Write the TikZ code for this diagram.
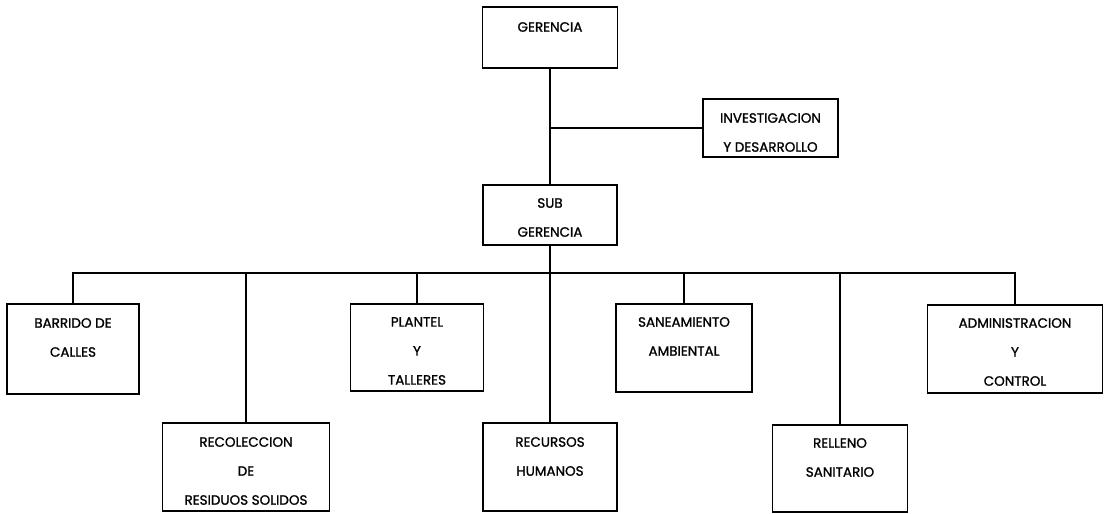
\documentclass[tikz,border=0pt]{standalone}
\usepackage{fontspec}
\setmainfont{Poppins}
\newfontfamily\capfont{Poppins}[FakeBold=1.2]
\begin{document}
\begin{tikzpicture}[x=1pt,y=-1pt,
  unit/.style={draw, line width=1.6pt, rectangle, inner sep=0pt},
  caption/.style={align=center, inner sep=0pt, anchor=north,
    font=\capfont\fontsize{13.5}{29}\selectfont},
  link/.style={line width=1.5pt}]
\useasboundingbox (0,0) rectangle (1104,514);

% boxes: centre, width and height
\node[unit, minimum width=135pt, minimum height=61pt] (ger)  at (550,37.5)  {};
\node[unit, minimum width=135pt, minimum height=58pt] (inv)  at (770.5,128) {};
\node[unit, minimum width=134pt, minimum height=60pt] (sub)  at (550,215)   {};
\node[unit, minimum width=132pt, minimum height=90pt] (barr) at (73,349)    {};
\node[unit, minimum width=167pt, minimum height=88pt] (reco) at (246,467)   {};
\node[unit, minimum width=133pt, minimum height=87pt] (plan) at (417,347.5) {};
\node[unit, minimum width=134pt, minimum height=88pt] (recu) at (550,467)   {};
\node[unit, minimum width=136pt, minimum height=88pt] (sane) at (684,348)   {};
\node[unit, minimum width=135pt, minimum height=87pt] (rell) at (840,468.5) {};
\node[unit, minimum width=175pt, minimum height=88pt] (admi) at (1015,349)  {};

% labels (top of first line of capitals)
\node[caption] (gerT)  at (550,22)    {GERENCIA};
\node[caption] (invT)  at (770.5,113) {INVESTIGACION\\Y DESARROLLO};
\node[caption] (subT)  at (550,198)   {SUB\\GERENCIA};
\node[caption] (barrT) at (73,318)    {BARRIDO DE\\CALLES};
\node[caption] (recoT) at (246,437)   {RECOLECCION\\DE\\RESIDUOS SOLIDOS};
\node[caption] (planT) at (417,317)   {PLANTEL\\Y\\TALLERES};
\node[caption] (recuT) at (550,437)   {RECURSOS\\HUMANOS};
\node[caption] (saneT) at (684,317)   {SANEAMIENTO\\AMBIENTAL};
\node[caption] (rellT) at (840,438)   {RELLENO\\SANITARIO};
\node[caption] (admiT) at (1015,318)  {ADMINISTRACION\\Y\\CONTROL};

% connectors
\coordinate (busL) at (73,273);
\coordinate (busR) at (1015,273);
\draw[link] (ger.south) -- (sub.north);
\draw[link] (inv.west) -- (inv.west -| ger.south);
\draw[link] (sub.south) -- (recu.north);
\draw[link] (barr.north) -- (busL) -- (busR) -- (admi.north);
\draw[link] (reco.north) -- (reco.north |- busL);
\draw[link] (plan.north) -- (plan.north |- busL);
\draw[link] (sane.north) -- (sane.north |- busL);
\draw[link] (rell.north) -- (rell.north |- busL);
\end{tikzpicture}
\end{document}
